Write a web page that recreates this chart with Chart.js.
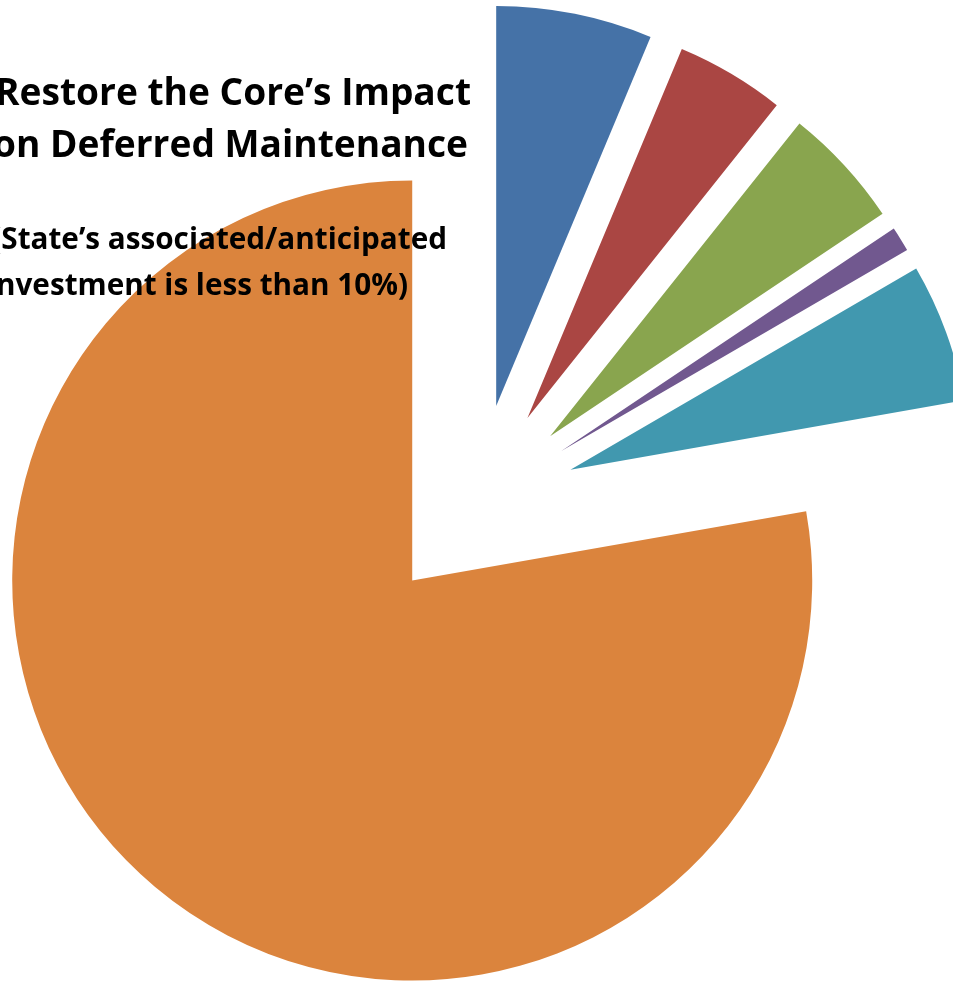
<!DOCTYPE html>
<html>
<head>
<meta charset="utf-8">
<script src="https://cdn.jsdelivr.net/npm/chart.js@4.4.1/dist/chart.umd.min.js"></script>
<style>
html, body { margin: 0; padding: 0; background: #ffffff; overflow: hidden; }
canvas { display: block; }
</style>
</head>
<body>
<canvas id="chart" width="953" height="982"></canvas>
<script>
// ---- data ----
const categories = ['Segment 1', 'Segment 2', 'Segment 3', 'Segment 4', 'Segment 5', 'Segment 6'];
const shareValues = [6.3, 4.4, 4.9, 1.0, 5.6, 77.7];
const sliceColors = ['#4572A7', '#AA4643', '#89A54E', '#71588F', '#4198AF', '#DB843D'];
const titleLines = ['Restore the Core\u2019s Impact', 'on Deferred Maintenance'];
const subtitleLines = ['(State\u2019s associated/anticipated', 'investment is less than 10%)'];

// ---- exploded pie: each slice moved out along its bisector by `offset` px ----
class ExplodedArc extends Chart.ArcElement {
  static id = 'explodedArc';
  draw(ctx) {
    const dist = (this.options && this.options.offset) || 0;
    const mid = (this.startAngle + this.endAngle) / 2;
    const saved = this.options;
    this.options = Object.assign({}, saved, { offset: 0 });
    ctx.save();
    ctx.translate(Math.cos(mid) * dist, Math.sin(mid) * dist);
    super.draw(ctx);
    ctx.restore();
    this.options = saved;
  }
}
class ExplodedPieController extends Chart.PieController {
  static id = 'explodedPie';
  static defaults = { dataElementType: 'explodedArc' };
}
Chart.register(ExplodedArc, ExplodedPieController);

const FONT_FAMILY = '"Open Sans", Lato, sans-serif';
function fittedSize(ctx, text, targetWidth) {
  ctx.font = 'bold 100px ' + FONT_FAMILY;
  return 100 * targetWidth / ctx.measureText(text).width;
}

const overlayTitle = {
  id: 'overlayTitle',
  afterDatasetsDraw(chart) {
    const ctx = chart.ctx;
    ctx.save();
    ctx.fillStyle = '#000000';
    ctx.textAlign = 'right';
    ctx.textBaseline = 'alphabetic';
    const ts = fittedSize(ctx, titleLines[0], 476);
    ctx.font = 'bold ' + ts.toFixed(2) + 'px ' + FONT_FAMILY;
    ctx.fillText(titleLines[0], 471, 105);
    ctx.fillText(titleLines[1], 468, 157);
    const ss = fittedSize(ctx, subtitleLines[0], 456);
    ctx.font = 'bold ' + ss.toFixed(2) + 'px ' + FONT_FAMILY;
    ctx.fillText(subtitleLines[0], 447, 249);
    ctx.fillText(subtitleLines[1], 408, 295);
    ctx.restore();
  }
};

new Chart(document.getElementById('chart'), {
  type: 'explodedPie',
  data: {
    labels: categories,
    datasets: [{
      data: shareValues,
      backgroundColor: sliceColors,
      borderWidth: 0,
      offset: 100,
      radius: 400
    }]
  },
  options: {
    responsive: false,
    animation: false,
    devicePixelRatio: 1,
    events: [],
    layout: { padding: { top: 26, left: 0, right: 0, bottom: 0 } },
    plugins: {
      legend: { display: false },
      tooltip: { enabled: false },
      title: { display: false }
    }
  },
  plugins: [overlayTitle]
});
</script>
</body>
</html>
